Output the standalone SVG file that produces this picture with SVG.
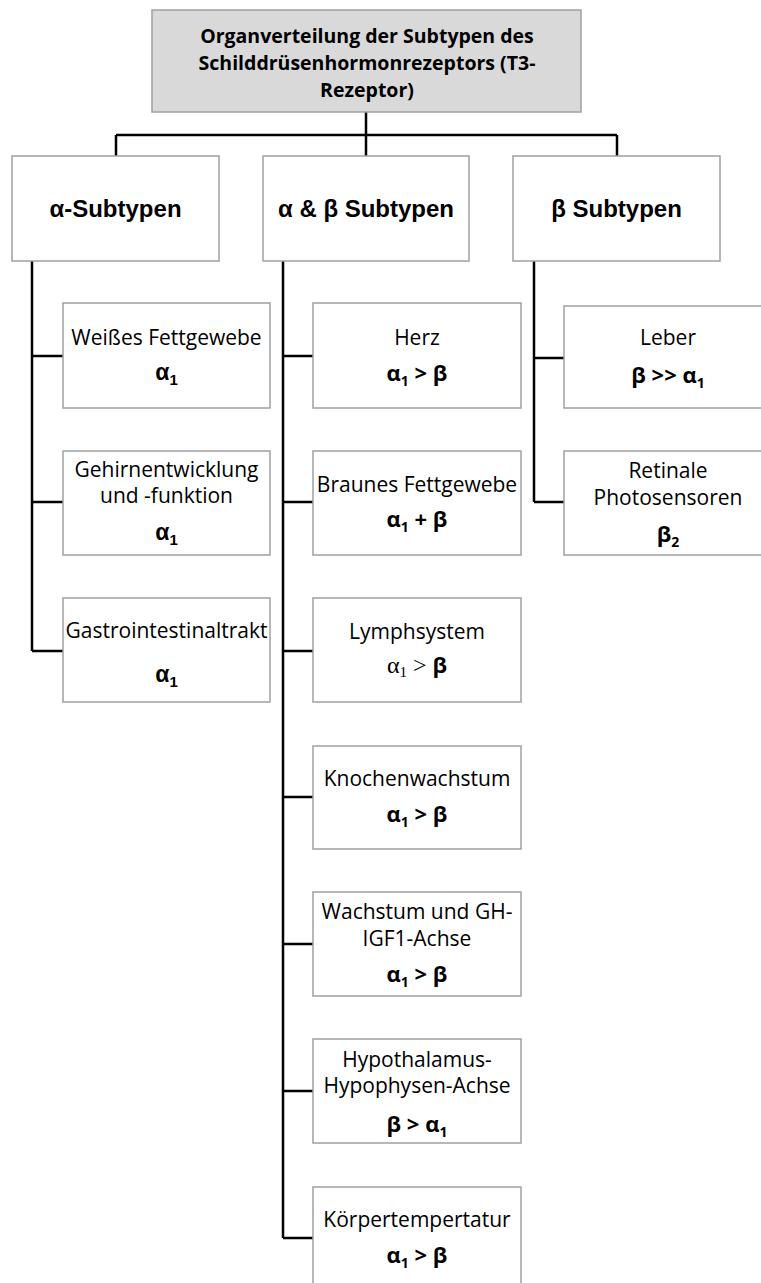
<svg xmlns="http://www.w3.org/2000/svg" width="761" height="1283" viewBox="0 0 761 1283">
<style>
.box{fill:#ffffff;stroke:#a0a0a0;stroke-width:1.5}
.root{fill:#d9d9d9;stroke:#a0a0a0;stroke-width:1.5}
.con{fill:none;stroke:#000;stroke-width:2.5}
.t{font-family:"Open Sans","Noto Sans",sans-serif;font-size:21px;fill:#000;text-anchor:middle}
.tb{font-family:"Open Sans","Noto Sans",sans-serif;font-size:22px;font-weight:bold;fill:#000;text-anchor:middle}
.title{font-family:"Open Sans","Noto Sans",sans-serif;font-size:19.5px;font-weight:bold;fill:#000;text-anchor:middle}
.h{font-family:"Liberation Sans",Arial,sans-serif;font-size:24px;font-weight:bold;fill:#000;text-anchor:middle}
.ab{font-family:"Liberation Sans",Arial,sans-serif;font-size:23px;font-weight:bold;fill:#000;text-anchor:middle}
.sr{font-family:"Liberation Serif","Times New Roman",serif;font-weight:normal}
</style>
<g id="connectors">
<path class="con" d="M366 112 V156 M116 135 H617 M116 135 V156 M617 135 V156"/>
<path class="con" d="M32 261 V651 M32 356 H63 M32 502 H63 M32 651 H63"/>
<path class="con" d="M283 261 V1238 M283 356 H313 M283 502 H313 M283 651 H313 M283 797 H313 M283 944 H313 M283 1091 H313 M283 1238 H313"/>
<path class="con" d="M534 261 V502 M534 358 H564 M534 502 H564"/>
</g>
<g id="root">
<rect class="root" x="152" y="10" width="429" height="102"/>
<text class="title" x="367" y="43">Organverteilung der Subtypen des</text>
<text class="title" x="367" y="70">Schilddrüsenhormonrezeptors (T3-</text>
<text class="title" x="367" y="97">Rezeptor)</text>
</g>
<g id="alpha">
<rect class="box" x="12" y="156" width="207" height="105"/>
<text class="h" x="115.5" y="217">α-Subtypen</text>
</g>
<g id="alphabeta">
<rect class="box" x="263" y="156" width="206" height="105"/>
<text class="h" x="366" y="217">α &amp; β Subtypen</text>
</g>
<g id="beta">
<rect class="box" x="513" y="156" width="207" height="105"/>
<text class="h" x="616.5" y="217">β Subtypen</text>
</g>
<g id="weisses">
<rect class="box" x="63" y="303" width="207" height="105"/>
<text class="t" x="166.5" y="345">Weißes Fettgewebe</text>
<text class="ab" x="166.5" y="380">α<tspan font-size="15" dy="5">1</tspan></text>
</g>
<g id="gehirn">
<rect class="box" x="63" y="451" width="207" height="104"/>
<text class="t" x="166.5" y="477">Gehirnentwicklung</text>
<text class="t" x="166.5" y="503">und -funktion</text>
<text class="ab" x="166.5" y="540">α<tspan font-size="15" dy="5">1</tspan></text>
</g>
<g id="gastro">
<rect class="box" x="63" y="598" width="207" height="104"/>
<text class="t" x="166.5" y="638">Gastrointestinaltrakt</text>
<text class="ab" x="166.5" y="682">α<tspan font-size="15" dy="5">1</tspan></text>
</g>
<g id="herz">
<rect class="box" x="313" y="303" width="208" height="105"/>
<text class="t" x="417" y="345">Herz</text>
<text class="tb" x="417" y="381">α<tspan font-size="14" dy="5">1</tspan><tspan dy="-5"> &gt; β</tspan></text>
</g>
<g id="braunes">
<rect class="box" x="313" y="451" width="208" height="104"/>
<text class="t" x="417" y="492">Braunes Fettgewebe</text>
<text class="tb" x="417" y="527">α<tspan font-size="14" dy="5">1</tspan><tspan dy="-5"> + β</tspan></text>
</g>
<g id="lymph">
<rect class="box" x="313" y="598" width="208" height="104"/>
<text class="t" x="417" y="639">Lymphsystem</text>
<text class="tb" x="417" y="673"><tspan class="sr" font-size="24">α</tspan><tspan class="sr" font-size="15" dy="4">1</tspan><tspan class="sr" font-size="24" dy="-4"> &gt; </tspan>β</text>
</g>
<g id="knochen">
<rect class="box" x="313" y="746" width="208" height="103"/>
<text class="t" x="417" y="786">Knochenwachstum</text>
<text class="tb" x="417" y="822">α<tspan font-size="14" dy="5">1</tspan><tspan dy="-5"> &gt; β</tspan></text>
</g>
<g id="wachstum">
<rect class="box" x="313" y="892" width="208" height="104"/>
<text class="t" x="417" y="919">Wachstum und GH-</text>
<text class="t" x="417" y="946">IGF1-Achse</text>
<text class="tb" x="417" y="982">α<tspan font-size="14" dy="5">1</tspan><tspan dy="-5"> &gt; β</tspan></text>
</g>
<g id="hypo">
<rect class="box" x="313" y="1039" width="208" height="104"/>
<text class="t" x="417" y="1067">Hypothalamus-</text>
<text class="t" x="417" y="1093">Hypophysen-Achse</text>
<text class="tb" x="417" y="1132">β &gt; α<tspan font-size="14" dy="5">1</tspan></text>
</g>
<g id="koerper">
<rect class="box" x="313" y="1187" width="208" height="105"/>
<text class="t" x="417" y="1227">Körpertempertatur</text>
<text class="tb" x="417" y="1263">α<tspan font-size="14" dy="5">1</tspan><tspan dy="-5"> &gt; β</tspan></text>
</g>
<g id="leber">
<rect class="box" x="564" y="306" width="208" height="102"/>
<text class="t" x="668" y="345">Leber</text>
<text class="tb" x="668" y="383">β &gt;&gt; α<tspan font-size="14" dy="5">1</tspan></text>
</g>
<g id="retinale">
<rect class="box" x="564" y="451" width="208" height="104"/>
<text class="t" x="668" y="478">Retinale</text>
<text class="t" x="668" y="505">Photosensoren</text>
<text class="tb" x="668" y="542">β<tspan font-size="14" dy="5">2</tspan></text>
</g>
</svg>
